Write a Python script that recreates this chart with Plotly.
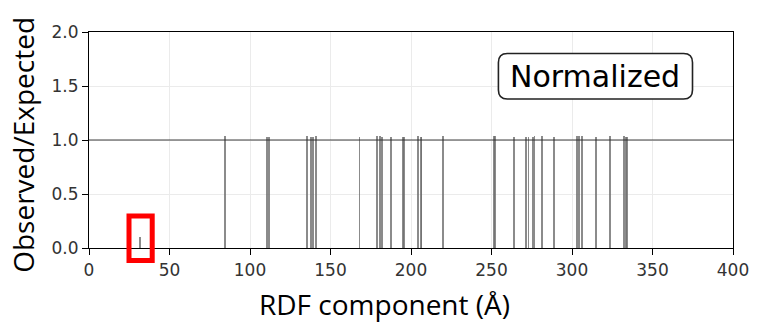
import plotly.graph_objects as go

# RDF component positions (Å) and observed/expected ratios
rdf_positions = [31.9, 84.5, 110.6, 111.9, 135.5, 137.7, 139.0, 141.1, 168.0,
                 179.1, 180.7, 181.8, 187.4, 194.8, 195.6, 204.4, 206.0, 206.5,
                 220.0, 251.7, 252.2, 263.9, 271.6, 273.0, 275.6, 276.7, 281.5,
                 288.6, 303.3, 304.3, 306.4, 315.0, 323.5, 332.5, 333.6, 334.1]
ratios = [0.10, 1.04, 1.03, 1.03, 1.04, 1.03, 1.03, 1.04, 1.03,
          1.04, 1.04, 1.03, 1.03, 1.03, 1.03, 1.04, 1.03, 1.03,
          1.04, 1.04, 1.04, 1.03, 1.03, 1.03, 1.03, 1.04, 1.04,
          1.03, 1.04, 1.04, 1.04, 1.03, 1.04, 1.04, 1.03, 1.03]
x_ticks = [0, 50, 100, 150, 200, 250, 300, 350, 400]
y_ticks = [0.0, 0.5, 1.0, 1.5, 2.0]
reference_level = 1.0

fig = go.Figure()
fig.add_trace(go.Bar(
    x=rdf_positions, y=ratios, width=1.1,
    marker=dict(color="rgba(110,110,110,0.8)", line=dict(width=0)),
    showlegend=False,
))

fig.add_shape(type="line", xref="paper", x0=0, x1=1, yref="y",
              y0=reference_level, y1=reference_level,
              line=dict(color="rgba(40,40,40,0.9)", width=1))

W, H = 652.0, 216.0   # plot area size in px
def px(xp):  # pixel -> paper x
    return (xp - 89) / W
def py(yp):  # pixel -> paper y
    return 1 - (yp - 32) / H

# rounded box for "Normalized" label
x0, x1 = px(503.5), px(700)
y0, y1 = py(99), py(53.5)
rx, ry = 9 / W, 9 / H
path = (f"M {x0+rx},{y0} L {x1-rx},{y0} Q {x1},{y0} {x1},{y0+ry} "
        f"L {x1},{y1-ry} Q {x1},{y1} {x1-rx},{y1} L {x0+rx},{y1} "
        f"Q {x0},{y1} {x0},{y1-ry} L {x0},{y0+ry} Q {x0},{y0} {x0+rx},{y0} Z")
fig.add_shape(type="path", xref="paper", yref="paper", path=path,
              line=dict(color="#222222", width=1.6), fillcolor="white")
fig.add_annotation(x=(x0 + x1) / 2, y=(y0 + y1) / 2, xref="paper", yref="paper",
                   xanchor="center", yanchor="middle",
                   text="Normalized", showarrow=False,
                   font=dict(family="DejaVu Sans", size=30, color="black"))

# red highlight rectangle
fig.add_shape(type="rect", xref="paper", yref="paper",
              x0=px(129.5), x1=px(153), y0=py(260.5), y1=py(216),
              line=dict(color="#ff0000", width=5), fillcolor="rgba(0,0,0,0)")

axis_common = dict(showline=True, linecolor="black", linewidth=1.2, mirror=True,
                   ticks="outside", ticklen=6, tickcolor="black",
                   showgrid=True, gridcolor="#ebebeb", gridwidth=1, zeroline=False,
                   tickfont=dict(family="DejaVu Sans", size=17, color="#333333"))

fig.update_xaxes(range=[0, 400], tickvals=x_ticks, **axis_common)
fig.update_yaxes(range=[0, 2], tickvals=y_ticks, tickformat=".1f", **axis_common)

# axis titles
fig.add_annotation(x=px(388), y=py(304), xref="paper", yref="paper",
                   xanchor="center", yanchor="middle", showarrow=False,
                   text="RDF component (Å)",
                   font=dict(family="Open Sans", size=28, color="black"))
fig.add_annotation(x=px(22), y=py(145), xref="paper", yref="paper",
                   xanchor="center", yanchor="middle", showarrow=False, textangle=-90,
                   text="Observed/Expected",
                   font=dict(family="Open Sans", size=28, color="black"))

fig.update_layout(width=761, height=322, margin=dict(l=89, r=20, t=32, b=74),
                  plot_bgcolor="white", paper_bgcolor="white", bargap=0)

fig.write_html("out.html")
